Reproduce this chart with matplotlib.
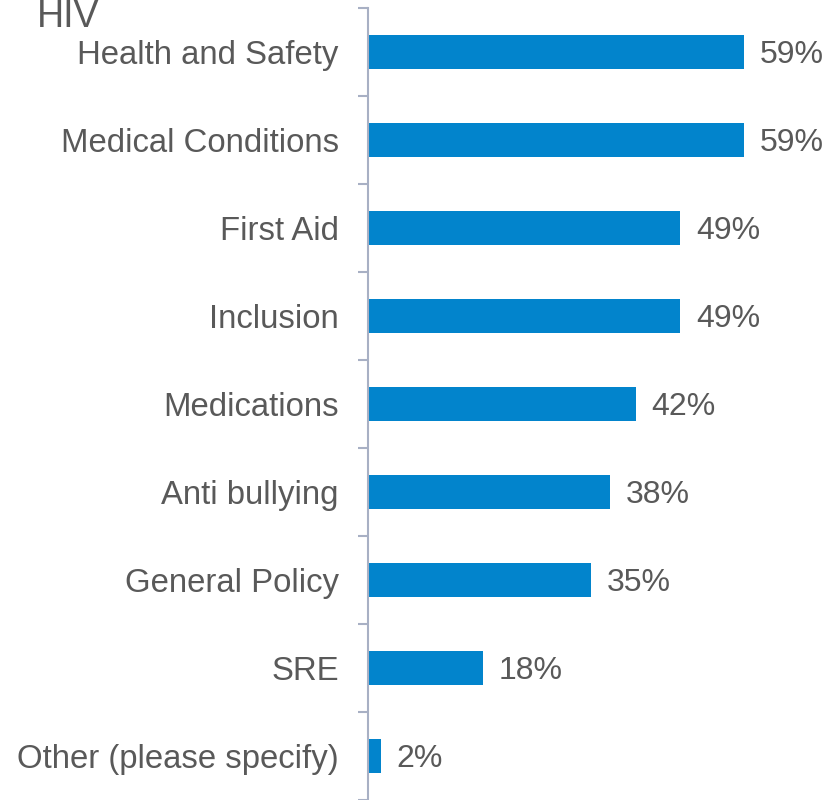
import numpy as np
import matplotlib.pyplot as plt
from matplotlib.transforms import offset_copy

categories = ['Health and Safety', 'Medical Conditions', 'First Aid', 'Inclusion',
              'Medications', 'Anti bullying', 'General Policy', 'SRE',
              'Other (please specify)']
values = [59, 59, 49, 49, 42, 38, 35, 18, 2]

plt.rcParams['font.family'] = ['Liberation Sans', 'DejaVu Sans']
text_color = '#595959'
bar_color = '#0284CC'
axis_color = '#A8B0C4'

fig = plt.figure(figsize=(8.33, 8), dpi=100)
ax = fig.add_axes([368 / 833, 0, 1 - 368 / 833, 1 - 8 / 800])

y = np.arange(len(categories))
ax.barh(y, values, height=0.39, color=bar_color)

# value labels, nudged a little down like the original
lbl_tr = offset_copy(ax.transData, fig=fig, x=0, y=-3, units='dots')
for yi, v in zip(y, values):
    ax.text(v + 2.5, yi, f'{v}%', va='center', ha='left', fontsize=23,
            color=text_color, transform=lbl_tr)

ax.set_xlim(0, 73)
ax.set_ylim(len(categories) - 0.5, -0.5)
ax.set_yticks(y)
ax.set_yticklabels(categories, fontsize=23.7, color=text_color)
for t in ax.get_yticklabels():
    t.set_transform(t.get_transform() + offset_copy(ax.transAxes, fig=fig, x=0, y=-2, units='dots') - ax.transAxes)
ax.set_yticks(np.arange(-0.5, len(categories)), minor=True)
ax.tick_params(axis='y', which='major', length=0, pad=21)
ax.tick_params(axis='y', which='minor', length=7.5, width=1.5, color=axis_color)
ax.set_xticks([])

for s in ['top', 'right', 'bottom']:
    ax.spines[s].set_visible(False)
ax.spines['left'].set_color(axis_color)
ax.spines['left'].set_linewidth(1.5)

fig.text(37 / 833, 1 - 27 / 800, 'HIV', fontsize=27, color=text_color, ha='left', va='baseline')

fig.savefig('out.png', dpi=100)
